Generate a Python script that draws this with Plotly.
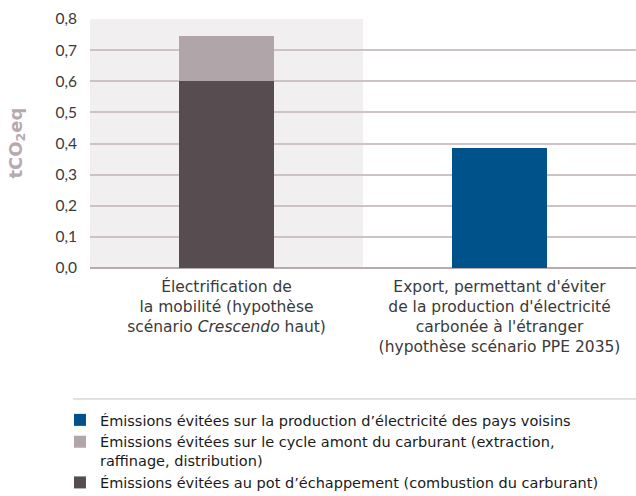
import plotly.graph_objects as go

# Categories (x axis) and series values, in tCO2eq
categories = [
    "Électrification de<br>la mobilité (hypothèse<br>scénario <i>Crescendo</i> haut)",
    "Export, permettant d'éviter<br>de la production d'électricité<br>carbonée à l'étranger<br>(hypothèse scénario PPE 2035)",
]
pot_echappement = [0.60, None]
cycle_amont = [0.145, None]
pays_voisins = [None, 0.386]

series_names = [
    "Émissions évitées au pot d’échappement (combustion du carburant)",
    "Émissions évitées sur le cycle amont du carburant (extraction,<br>raffinage, distribution)",
    "Émissions évitées sur la production d’électricité des pays voisins",
]
y_ticks = [0.0, 0.1, 0.2, 0.3, 0.4, 0.5, 0.6, 0.7, 0.8]
y_title = "<b>tCO<sub>2</sub>eq</b>"

DARK = "#574C50"
LIGHT = "#B0A6AA"
BLUE = "#00528A"
GRID = "#CDC3C7"
TEXT = "#3A3A3A"
UI_FONT = "Lato"
LABEL_FONT = "DejaVu Sans"
LEGEND_FONT = "DejaVu Sans"

fig = go.Figure()
for vals, name, color in [
    (pot_echappement, series_names[0], DARK),
    (cycle_amont, series_names[1], LIGHT),
    (pays_voisins, series_names[2], BLUE),
]:
    fig.add_trace(go.Bar(
        x=categories, y=vals, name=name, marker=dict(color=color, line=dict(width=0)),
        width=0.35, hoverinfo="skip",
    ))

# Light background highlighting the first category
fig.add_shape(type="rect", xref="paper", yref="y", x0=0, x1=0.5, y0=0, y1=0.8,
              fillcolor="#F2EFF0", line=dict(width=0), layer="below")
# Divider above the legend
fig.add_shape(type="line", xref="paper", yref="paper", x0=-0.031, x1=1, y0=-0.526, y1=-0.526,
              line=dict(color="#C9BFC3", width=1))

# Y axis title, rotated, in the left margin
fig.add_annotation(text=y_title, textangle=-90, xref="paper", yref="paper",
                   x=-0.1355, y=0.5, xanchor="center", yanchor="middle", showarrow=False,
                   font=dict(family="DejaVu Sans", size=18, color="#B8A9AF"))

fig.update_layout(
    width=636, height=496,
    margin=dict(l=90, r=0, t=19, b=228, autoexpand=False),
    barmode="stack",
    separators=", ",
    plot_bgcolor="rgba(0,0,0,0)",
    paper_bgcolor="white",
    font=dict(family=UI_FONT, color=TEXT, size=15),
    showlegend=True,
    legend=dict(
        traceorder="reversed", orientation="v",
        x=-0.055, xanchor="left", y=-0.546, yanchor="top",
        font=dict(family=LEGEND_FONT, size=14.5, color="#1A1A1A"),
        valign="top", tracegroupgap=0, itemclick=False,
        bgcolor="rgba(0,0,0,0)",
    ),
    xaxis=dict(
        showgrid=False, showline=False, ticks="",
        tickfont=dict(family=LABEL_FONT, size=15.5, color=TEXT),
        ticklabelstandoff=7,
    ),
    yaxis=dict(
        range=[0, 0.8], tickvals=y_ticks, tickformat=".1f",
        showgrid=True, gridcolor=GRID, gridwidth=1.5,
        zeroline=True, zerolinecolor="#B8ABB0", zerolinewidth=1.5,
        showline=False, ticks="",
        tickfont=dict(family=UI_FONT, size=15.5, color=TEXT),
        ticklabelstandoff=12,
    ),
)

fig.write_html("out.html")
